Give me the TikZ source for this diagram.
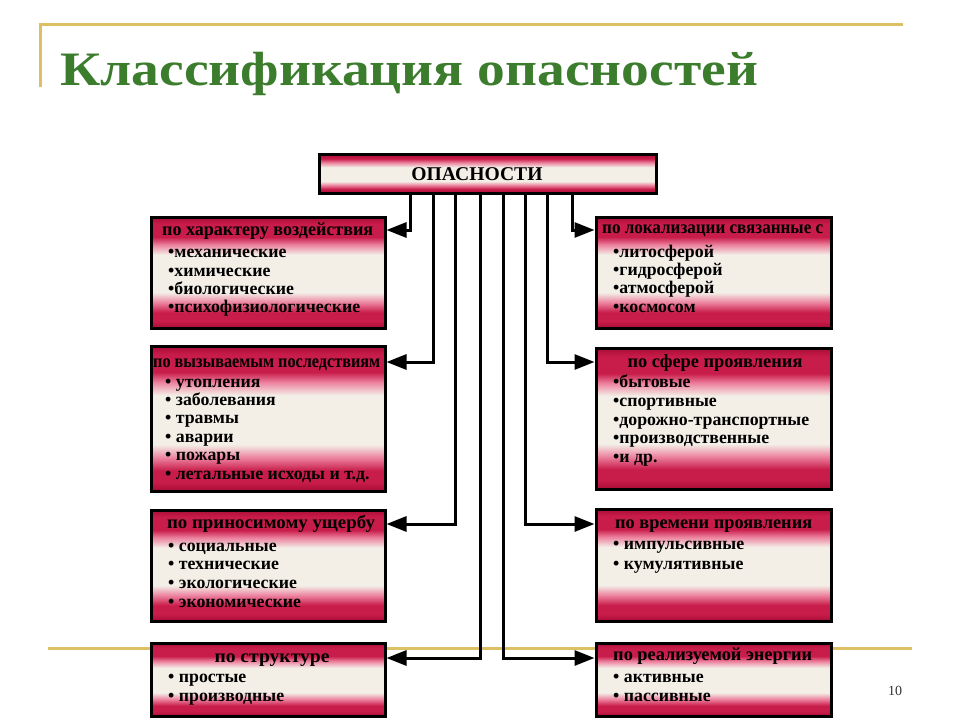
\documentclass[tikz,border=0pt]{standalone}
\usepackage{fontspec}
\setmainfont{Liberation Serif}
\usetikzlibrary{arrows.meta}
\definecolor{cR}{RGB}{200,28,74}
\definecolor{cD}{RGB}{168,12,52}
\definecolor{cP}{RGB}{236,130,158}
\definecolor{cW}{RGB}{243,239,231}
\definecolor{ttl}{RGB}{60,125,45}
\definecolor{gold}{RGB}{222,192,100}
\pgfdeclareverticalshading{boxsh}{100bp}{color(0bp)=(cD); color(25bp)=(cD); color(28bp)=(cR); color(32bp)=(cR); color(36.5bp)=(cP); color(41bp)=(cW); color(58bp)=(cW); color(62.5bp)=(cP); color(66bp)=(cR); color(72bp)=(cR); color(75bp)=(cD); color(100bp)=(cD)}
\pgfdeclareverticalshading{topsh}{100bp}{color(0bp)=(cD); color(25bp)=(cD); color(30bp)=(cR); color(35bp)=(cP); color(40bp)=(cW); color(58bp)=(cW); color(64bp)=(cP); color(69bp)=(cR); color(75bp)=(cD); color(100bp)=(cD)}
\newcommand\mkbox[6]{\node[#6, minimum width={#4-#2}, minimum height={#5-#3}] (#1) at ({(#2+#4)/2},{(#3+#5)/2}) {};}
\newcommand\fitw[2]{\resizebox{#1pt}{\height}{#2}}
\tikzset{
  x=1pt, y=-1pt,
  box/.style={draw=black, line width=3pt, shading=boxsh, rectangle, inner sep=0},
  topbox/.style={draw=black, line width=3pt, shading=topsh, rectangle, inner sep=0},
  hdr/.style={inner sep=0, font=\bfseries\fontsize{18.5}{19}\selectfont, text=black},
  itm/.style={inner sep=0, anchor=base west, font=\bfseries\fontsize{17.8}{18}\selectfont, text=black},
  conn/.style={line width=3pt, -{Triangle[length=20pt,width=15pt]}},
  goldline/.style={draw=gold, line width=3pt}
}
\begin{document}
\begin{tikzpicture}
\useasboundingbox (0,0) rectangle (960,720);
\fill[white] (0,0) rectangle (960,720);
% decorative lines
\draw[goldline] (40,87) -- (40,24) -- (903,24);
\draw[goldline] (48,648) -- (912,648);
% title
\node[inner sep=0, anchor=base west, text=ttl, font=\bfseries\fontsize{48}{50}\selectfont] (title) at (60,85) {\fitw{698}{Классификация опасностей}};
\node[inner sep=0, font=\fontsize{14}{14}\selectfont, text=black!80] (pg) at (895,691) {10};
% boxes
\mkbox{top}{319}{154}{656}{193}{topbox}
\mkbox{L1}{151}{217}{385}{328}{box}
\mkbox{L2}{151}{346}{385}{491}{box}
\mkbox{L3}{151}{510}{385}{621}{box}
\mkbox{L4}{151}{643}{385}{716}{box}
\mkbox{R1}{596}{217}{831}{328}{box}
\mkbox{R2}{596}{348}{831}{489}{box}
\mkbox{R3}{596}{509}{831}{621}{box}
\mkbox{R4}{596}{643}{831}{716}{box}
% headers
\node[hdr, anchor=base] (toph) at (477,180) {\fitw{131}{\fontsize{19.5}{20}\selectfont ОПАСНОСТИ}};
\node[hdr, anchor=base west] (L1h) at (162,235) {\fitw{211}{по характеру воздействия}};
\node[hdr, anchor=base west] (L2h) at (153,367) {\fitw{227}{по вызываемым последствиям}};
\node[hdr, anchor=base] (L3h) at (271,528) {\fitw{208}{по приносимому ущербу}};
\node[hdr, anchor=base] (L4h) at (272,662) {\fitw{115}{по структуре}};
\node[hdr, anchor=base west] (R1h) at (602,233) {\fitw{221}{по локализации связанные с}};
\node[hdr, anchor=base] (R2h) at (715,367) {\fitw{175}{по сфере проявления}};
\node[hdr, anchor=base west] (R3h) at (615,528) {\fitw{197}{по времени проявления}};
\node[hdr, anchor=base west] (R4h) at (613,660) {\fitw{199}{по реализуемой энергии}};
% items left
\node[itm] (L1a) at (168,257) {•механические};
\node[itm] (L1b) at (168,276) {•химические};
\node[itm] (L1c) at (168,294) {•биологические};
\node[itm] (L1d) at (168,312) {•психофизиологические};
\node[itm] (L2a) at (165,387) {• утопления};
\node[itm] (L2b) at (165,405) {• заболевания};
\node[itm] (L2c) at (165,423) {• травмы};
\node[itm] (L2d) at (165,442) {• аварии};
\node[itm] (L2e) at (165,460) {• пожары};
\node[itm] (L2f) at (165,479) {• летальные исходы и т.д.};
\node[itm] (L3a) at (168,551) {• социальные};
\node[itm] (L3b) at (168,569) {• технические};
\node[itm] (L3c) at (168,588) {• экологические};
\node[itm] (L3d) at (168,607) {• экономические};
\node[itm] (L4a) at (168,682) {• простые};
\node[itm] (L4b) at (168,701) {• производные};
% items right
\node[itm] (R1a) at (613,257) {•литосферой};
\node[itm] (R1b) at (613,275) {•гидросферой};
\node[itm] (R1c) at (613,293) {•атмосферой};
\node[itm] (R1d) at (613,312) {•космосом};
\node[itm] (R2a) at (613,387) {•бытовые};
\node[itm] (R2b) at (613,406) {•спортивные};
\node[itm] (R2c) at (613,425) {•дорожно-транспортные};
\node[itm] (R2d) at (613,443) {•производственные};
\node[itm] (R2e) at (613,462) {•и др.};
\node[itm] (R3a) at (613,549) {• импульсивные};
\node[itm] (R3b) at (613,569) {• кумулятивные};
\node[itm] (R4a) at (613,682) {• активные};
\node[itm] (R4b) at (613,701) {• пассивные};
% branch x positions
\coordinate (b1) at (410,0);
\coordinate (b2) at (433,0);
\coordinate (b3) at (455,0);
\coordinate (b4) at (480,0);
\coordinate (b5) at (503,0);
\coordinate (b6) at (525,0);
\coordinate (b7) at (547,0);
\coordinate (b8) at (572,0);
\coordinate (y1) at (0,230);
\coordinate (y2) at (0,362);
\coordinate (y3) at (0,524);
\coordinate (y4) at (0,658);
% connectors
\draw[conn] (top.south -| b1) |- (y1 -| L1.east);
\draw[conn] (top.south -| b2) |- (y2 -| L2.east);
\draw[conn] (top.south -| b3) |- (y3 -| L3.east);
\draw[conn] (top.south -| b4) |- (y4 -| L4.east);
\draw[conn] (top.south -| b5) |- (y4 -| R4.west);
\draw[conn] (top.south -| b6) |- (y3 -| R3.west);
\draw[conn] (top.south -| b7) |- (y2 -| R2.west);
\draw[conn] (top.south -| b8) |- (y1 -| R1.west);
\end{tikzpicture}
\end{document}
